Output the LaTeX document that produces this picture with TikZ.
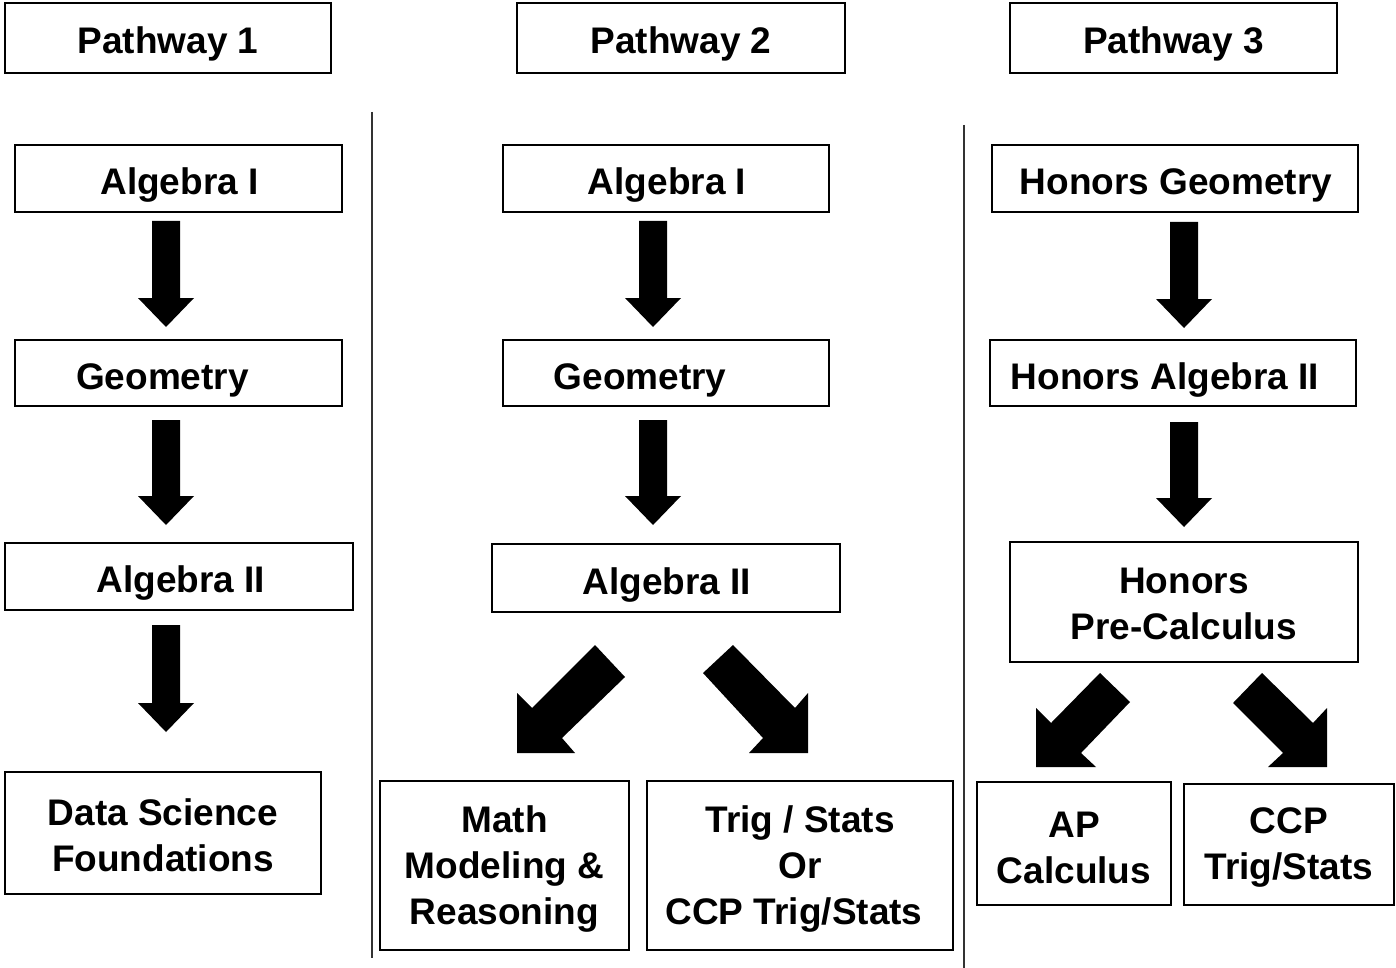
\documentclass[tikz,border=0pt]{standalone}
\usepackage{fontspec}
\setmainfont{Liberation Sans}
\usetikzlibrary{calc}
\tikzset{
  box/.style={draw=black, line width=2.6pt, inner sep=0pt},
  boxtext/.style={inner sep=0pt, align=center,
    font=\bfseries\fontsize{37}{46}\selectfont},
  blockarrow/.style={fill=black, draw=none},
  divider/.style={draw=black!80, line width=1.6pt}
}
% #1 name, #2-#5 box corners, #6 dx, #7 dy, #8 text
\newcommand\bx[8]{%
  \node[box, minimum width={#4-#2}, minimum height={#5-#3}] (#1) at ({(#2+#4)/2},{(#3+#5)/2}) {};
  \node[boxtext] (#1t) at ($(#1.center)+(#6,#7)$) {#8};}
\newcommand\varrowblock[3]{%
  \fill[blockarrow] (#1-14,#2) -- (#1+14,#2) -- (#1+14,#3-29) -- (#1+28,#3-29) -- (#1,#3) -- (#1-28,#3-29) -- (#1-14,#3-29) -- cycle;}
\begin{document}
\begin{tikzpicture}[x=1pt,y=-1pt]
\useasboundingbox (0,0) rectangle (1396,968);
\fill[white] (0,0) rectangle (1396,968);

% headers
\bx{p1}{5}{3}{331}{73}{0}{6}{Pathway 1}
\bx{p2}{517}{3}{845}{73}{0}{6}{Pathway 2}
\bx{p3}{1010}{3}{1337}{73}{0}{6}{Pathway 3}

% dividers
\coordinate (d1t) at (372,112);
\coordinate (d1b) at (372,958);
\coordinate (d2t) at (964,125);
\coordinate (d2b) at (964,968);
\draw[divider] (d1t) -- (d1b);
\draw[divider] (d2t) -- (d2b);

% pathway 1
\bx{a1}{15}{145}{342}{212}{1}{7}{Algebra I}
\bx{g1}{15}{340}{342}{406}{-16}{7}{Geometry}
\bx{b1}{5}{543}{353}{610}{2}{7}{Algebra II}
\bx{ds}{5}{772}{321}{894}{0}{2}{Data Science\\Foundations}
\varrowblock{166}{221}{327}
\varrowblock{166}{420}{525}
\varrowblock{166}{625}{732}

% pathway 2
\bx{a2}{503}{145}{829}{212}{1}{7}{Algebra I}
\bx{g2}{503}{340}{829}{406}{-26}{7}{Geometry}
\bx{b2}{492}{544}{840}{612}{1}{7}{Algebra II}
\bx{mm}{380}{781}{629}{950}{0}{4}{Math\\Modeling \&\\Reasoning}
\bx{ts}{647}{781}{953}{950}{0}{4}{Trig / Stats\\Or\\\hspace*{-12pt}CCP Trig/Stats}
\varrowblock{653}{221}{327}
\varrowblock{653}{420}{525}
\fill[blockarrow] (595,645) -- (532,708) -- (517,693) -- (517,753) -- (575,753) -- (562,738) -- (625,677) -- cycle;
\fill[blockarrow] (733,645) -- (795,708) -- (808,693) -- (808,753) -- (749,753) -- (763,738) -- (703,673) -- cycle;

% pathway 3
\bx{hg}{992}{145}{1358}{212}{1}{7}{Honors Geometry}
\bx{ha}{990}{340}{1356}{406}{-8}{7}{Honors Algebra II}
\bx{hp}{1010}{542}{1358}{662}{0}{2}{Honors\\Pre-Calculus}
\bx{ap}{977}{782}{1171}{905}{0}{4}{AP\\Calculus}
\bx{cc}{1184}{784}{1394}{905}{0}{3}{CCP\\Trig/Stats}
\varrowblock{1184}{222}{328}
\varrowblock{1184}{422}{527}
\fill[blockarrow] (1100,673) -- (1051,723) -- (1036,708) -- (1036,767) -- (1096,767) -- (1081,753) -- (1130,702) -- cycle;
\fill[blockarrow] (1262,673) -- (1313,723) -- (1327,708) -- (1327,767) -- (1268,767) -- (1283,753) -- (1233,703) -- cycle;
\end{tikzpicture}
\end{document}
